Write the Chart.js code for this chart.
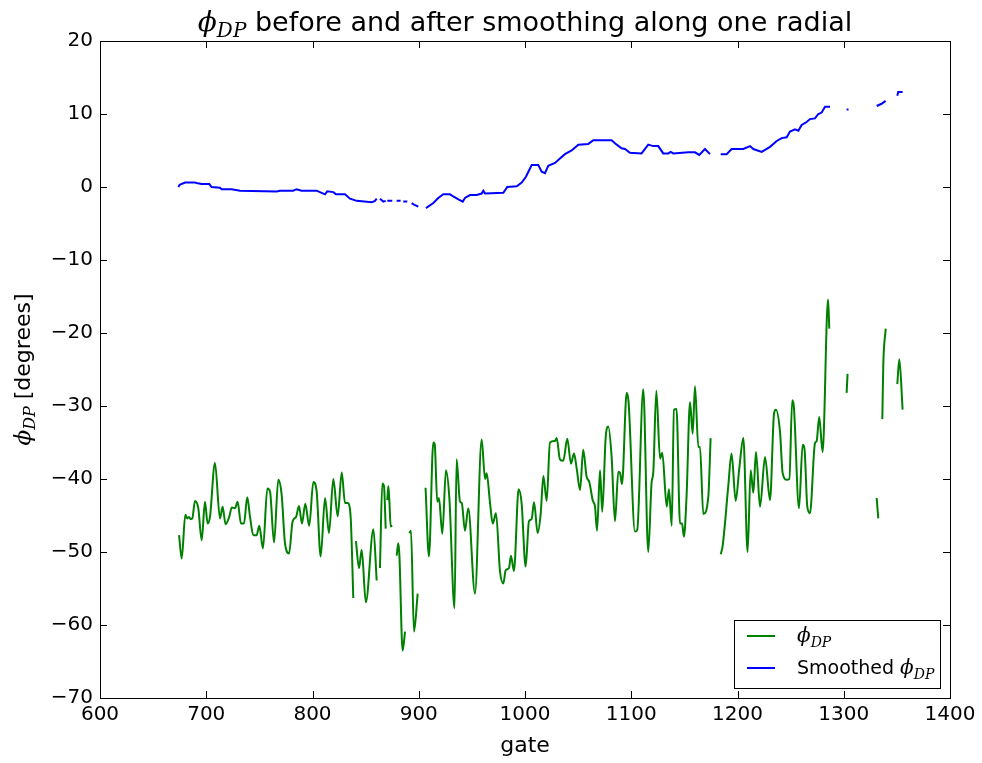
<!DOCTYPE html>
<html>
<head>
<meta charset="utf-8">
<script src="https://cdn.jsdelivr.net/npm/chart.js@4/dist/chart.umd.min.js"></script>
<style>
  html, body { margin: 0; padding: 0; background: #fff; }
  #wrap { width: 982px; height: 763px; }
</style>
</head>
<body>
<div id="wrap"><canvas id="c" width="982" height="763"></canvas></div>
<script>
// Raw differential phase along the radial (null = masked gate, breaks the line)
const phiGates = [
  674.4, 676.9, 680.3, 682.2, 683.8, 685.3, 686.9, 689.4, 692.5, 695.7, 698.8, 701.3, 703.5, 708.2,
  712.9, 715.4, 718.2, 721.6, 724.1, 727.1, 729.5, 732.7, 735.5, 738.6, 741.2, 744.3, 747.4, 749.9,
  753.4, 757.5, 760.0, 763.8, 767.8, 771.0, 774.1, 777.9, 781.3, 784.5, 787.3, 790.1, 793.2, 796.9,
  800.8, 803.9, 807.7, 811.8, 815.5, 819.6, 823.7, 827.5, 830.6, 833.1, 835.9, 838.4, 839.5,
  840.9, 843.8, 846.3, 850.2, 857.3, 860.4, 862.0,
  863.5, 865.7, 867.3, 868.9, 869.6,
  870.4, 871.4, 872.3, 873.6, 875.1, 877.0,
  879.2, 880.8, 881.8, 884.8, 887.1, 889.0,
  891.1, 892.7, 895.5, 899.0, 903.0,
  906.4, 909.6, 913.7, 915.0, 917.4, 919.0, 922.2, 925.6, 928.8, 933.7, 935.6, 938.8, 940.5,
  943.5, 946.6, 952.9, 959.2, 962.4, 963.9, 967.1, 969.6, 972.7, 976.5, 979.6, 981.8, 984.9,
  986.8, 989.6, 994.0, 996.8, 1000.6, 1003.7, 1006.2, 1008.5, 1011.9, 1014.8, 1017.3, 1020.4,
  1023.5, 1028.2, 1029.8, 1032.9, 1036.0, 1039.8, 1043.3, 1046.1, 1048.6, 1051.8, 1054.8, 1058.0,
  1060.5, 1063.7, 1065.9, 1067.8, 1070.6, 1072.7, 1075.9, 1078.4, 1081.5, 1084.7, 1087.8, 1089.5,
  1091.3, 1095.7, 1097.5, 1103.5, 1105.6, 1111.3, 1116.0, 1119.2, 1120.7, 1123.6, 1127.1, 1129.2,
  1133.4, 1135.5, 1138.1, 1140.2, 1142.6, 1145.9, 1147.8, 1149.6, 1152.1, 1155.3, 1157.8, 1160.0,
  1163.1, 1164.7, 1167.8, 1172.5, 1174.7, 1180.0,
  1184.2, 1186.0, 1191.3, 1194.4, 1198.3, 1201.7, 1205.5, 1209.5, 1212.4, 1214.9, 1217.4, 1221.2,
  1225.9, 1230.6, 1234.4, 1236.2, 1240.0, 1242.5, 1246.3, 1248.8, 1251.5, 1253.0, 1257.9, 1261.3,
  1263.0, 1265.7, 1268.2, 1272.9, 1274.5, 1276.9, 1280.1, 1285.2, 1286.4, 1295.0,
  1302.7, 1303.6, 1317.0,
  1331.0, 1332.5, 1334.5,
  1336.3, 1337.2, 1339.5, 1345.0,
  1350.4, 1352.3, 1355.4
];
const phiValues = [
  -47.7, -50.9, -44.9, -45.4, -45.2, -45.5, -45.4, -43.0, -44.0, -48.4, -43.1, -46.1, -45.2, -37.8,
  -45.4, -43.8, -46.2, -45.2, -43.9, -44.0, -43.1, -46.1, -46.1, -42.5, -45.2, -47.7, -47.7, -46.4,
  -49.5, -41.3, -41.7, -48.7, -40.1, -42.2, -48.8, -50.2, -45.8, -45.2, -43.7, -46.1, -43.4, -46.4,
  -40.4, -41.7, -50.6, -42.6, -47.4, -40.0, -45.1, -39.1, -43.3, -43.3, -45.2, -56.3, null,
  -48.5, -52.2, -49.7, -56.9, -46.9, -53.9, null,
  -52.2, -40.6, -41.0, -46.8, null,
  -42.9, -41.0, -42.9, -46.5, -46.4, null,
  -50.5, -48.8, -50.5, -63.5, -60.9, null,
  -47.4, -47.1, -60.9, -55.7, null,
  -41.2, -50.6, -35.0, -35.2, -43.1, -42.6, -47.5, -38.8, -42.6, -57.7, -37.3, -43.1, -43.3,
  -47.1, -44.0, -55.7, -34.6, -40.0, -39.2, -43.3, -46.1, -44.7, -52.7, -54.3, -52.5, -52.2,
  -50.5, -52.6, -41.4, -43.3, -52.0, -45.8, -45.5, -43.2, -47.4, -44.7, -39.6, -43.0,
  -35.0, -34.8, -34.4, -37.3, -37.5, -34.5, -37.9, -36.5, -38.5, -41.5, -36.0, -39.7,
  -40.4, -42.9, -43.8, -47.1, -38.8, -44.5, -34.4, -32.8, -36.9, -45.8, -39.0, -39.2,
  -40.7, -28.2, -29.5, -47.2, -47.0, -27.7, -50.0, -40.4, -39.2, -27.9, -37.2, -36.4,
  -43.8, -41.4, -46.4, -30.5, -30.4, -46.1, -46.1, -47.9, -42.2, -29.5, -33.8, -27.3,
  -35.6, -35.6, -44.8, -42.5, -34.4, null,
  -50.3, -49.2, -41.0, -36.5, -43.0, -38.5, -34.4, -50.0, -38.8, -41.9, -36.3, -43.8,
  -37.0, -42.9, -31.0, -30.5, -33.5, -39.2, -40.1, -40.0, -29.2, -30.0, -44.0, -35.3,
  -35.8, -43.8, -44.7, -35.1, -34.8, -31.5, -36.3, -15.4, -19.4, null,
  -28.2, -25.6, null,
  -42.6, -45.4, null,
  -31.8, -24.4, -19.4, null,
  -27.0, -23.6, -30.5
];

// Smoothed differential phase on the same radial
const smoothGates = [
  673.7, 675.0, 680.0, 689.4, 692.0, 695.7, 702.9, 705.0, 712.9, 714.5, 723.9, 731.8, 766.2, 769.4,
  781.9, 785.0, 789.7, 803.9, 808.6, 811.8, 813.9, 819.6, 822.1, 830.6, 835.3, 841.6, 855.7, 858.8,
  860.4, 862.0,
  863.5, 866.7, 868.9, 869.6,
  870.4, 875.1, 877.0,
  879.2, 882.9, 884.0,
  885.4, 889.2, 891.0,
  893.3, 895.5, 899.6, 903.0,
  906.8, 913.7, 918.4, 923.1, 929.4, 932.5, 937.3, 941.4, 943.5, 948.2, 954.5, 959.2, 960.8,
  962.4, 979.6, 983.3, 992.2, 996.9, 1000.9, 1006.3, 1012.5, 1015.7, 1018.8, 1021.9, 1028.2,
  1032.9, 1037.6, 1043.9, 1050.2, 1059.6, 1064.3, 1081.5, 1086.3, 1090.9, 1094.1, 1098.8, 1109.7,
  1116.0, 1120.7, 1125.4, 1130.1, 1134.9, 1137.1, 1139.6, 1153.7, 1160.0, 1164.0, 1169.4, 1174.1,
  1180.0,
  1184.2, 1189.8, 1194.5, 1205.5, 1211.8, 1214.9, 1222.8, 1230.6, 1236.9, 1241.6, 1246.3, 1249.4,
  1254.1, 1257.3, 1260.4, 1265.1, 1268.2, 1272.9, 1276.1, 1279.2, 1282.4, 1287.1, 1295.0,
  1302.7, 1304.5, 1317.0,
  1331.0, 1335.6, 1339.4, 1345.0,
  1350.4, 1351.3, 1355.4
];
const smoothValues = [
  0.0, 0.3, 0.6, 0.6, 0.5, 0.4, 0.4, 0.0, -0.1, -0.3, -0.3, -0.5, -0.6, -0.5,
  -0.5, -0.3, -0.5, -0.5, -0.8, -1.0, -0.6, -0.7, -1.0, -1.0, -1.6, -1.9, -2.1, -1.9,
  -1.6, null,
  -1.6, -2.0, -1.9, null,
  -1.9, -1.9, null,
  -1.9, -1.9, null,
  -2.0, -2.0, null,
  -2.2, -2.4, -2.7, null,
  -2.9, -2.2, -1.5, -1.0, -1.0, -1.3, -1.7, -2.0, -1.5, -1.1, -1.1, -0.9, -0.5,
  -0.9, -0.8, 0.0, 0.1, 0.6, 1.4, 3.0, 3.0, 2.1, 1.9, 2.9, 3.3,
  3.9, 4.5, 5.0, 5.8, 5.9, 6.4, 6.4, 5.8, 5.3, 5.2, 4.7, 4.6,
  5.8, 5.6, 5.6, 4.6, 4.6, 4.8, 4.6, 4.75, 4.75, 4.4, 5.2, 4.5,
  null,
  4.5, 4.5, 5.2, 5.2, 5.6, 5.2, 4.8, 5.5, 6.3, 6.7, 6.8, 7.6,
  7.9, 7.7, 8.5, 8.9, 9.3, 9.4, 10.0, 10.2, 11.0, 11.0, null,
  10.6, 10.6, null,
  11.1, 11.4, 11.8, null,
  12.5, 13.0, 13.0
];

const xTicks = [600, 700, 800, 900, 1000, 1100, 1200, 1300, 1400];
const yTicks = [-70, -60, -50, -40, -30, -20, -10, 0, 10, 20];

const SANS = '"DejaVu Sans", sans-serif';
const MATH = '"DejaVu Serif", "Liberation Serif", serif';
const PHI = '\u03D5';
const minus = v => (v < 0 ? '\u2212' + Math.abs(v) : String(v));
const toPoints = (xs, ys) => xs.map((x, i) => ({ x: x, y: ys[i] }));

// Draw a run of text pieces (plain text + italic phi with DP subscript) starting at x
function drawRuns(ctx, runs, x, y, align) {
  let total = 0;
  runs.forEach(r => { ctx.font = r.font; total += ctx.measureText(r.text).width; });
  let cx = align === 'center' ? x - total / 2 : x;
  ctx.textBaseline = 'alphabetic';
  ctx.textAlign = 'left';
  runs.forEach(r => {
    ctx.font = r.font;
    ctx.fillText(r.text, cx, y + (r.dy || 0));
    cx += ctx.measureText(r.text).width;
  });
}
function phiRuns(size, subSize, sub) {
  return [
    { text: PHI, font: 'italic ' + size + 'px ' + MATH },
    { text: 'DP', font: 'italic ' + subSize + 'px ' + MATH, dy: sub }
  ];
}

const framePlugin = {
  id: 'frameAndText',
  afterDraw(chart) {
    const ctx = chart.ctx;
    const a = chart.chartArea;
    const xs = chart.scales.x, ys = chart.scales.y;
    ctx.save();
    ctx.strokeStyle = '#000';
    ctx.lineWidth = 1;
    // inward ticks on all four sides
    const tl = 7;
    ctx.beginPath();
    xTicks.forEach(v => {
      const px = Math.round(xs.getPixelForValue(v)) + 0.5;
      ctx.moveTo(px, a.bottom); ctx.lineTo(px, a.bottom - tl);
      ctx.moveTo(px, a.top); ctx.lineTo(px, a.top + tl);
    });
    yTicks.forEach(v => {
      const py = Math.round(ys.getPixelForValue(v)) + 0.5;
      ctx.moveTo(a.left, py); ctx.lineTo(a.left + tl, py);
      ctx.moveTo(a.right, py); ctx.lineTo(a.right - tl, py);
    });
    ctx.stroke();
    // axes frame
    ctx.strokeRect(Math.round(a.left) + 0.5, Math.round(a.top) + 0.5,
                   Math.round(a.right - a.left), Math.round(a.bottom - a.top));

    ctx.fillStyle = '#000';
    // title
    const cxm = (a.left + a.right) / 2;
    drawRuns(ctx, phiRuns(28, 20, 6).concat([
      { text: ' before and after smoothing along one radial', font: '27px ' + SANS }
    ]), cxm, 31, 'center');

    // x axis label
    drawRuns(ctx, [{ text: 'gate', font: '22px ' + SANS }], cxm, 752, 'center');

    // y axis label (rotated)
    ctx.save();
    ctx.translate(30, (a.top + a.bottom) / 2);
    ctx.rotate(-Math.PI / 2);
    drawRuns(ctx, phiRuns(23, 16, 5).concat([
      { text: ' [degrees]', font: '22px ' + SANS }
    ]), 0, 0, 'center');
    ctx.restore();

    // legend box
    const lx = 734.5, ly = 620.5, lw = 206, lh = 68;
    ctx.fillStyle = '#fff';
    ctx.fillRect(lx, ly, lw, lh);
    ctx.strokeStyle = '#000';
    ctx.lineWidth = 1;
    ctx.strokeRect(lx, ly, lw, lh);
    const items = chart.data.datasets;
    const rowsY = [636, 668];
    items.forEach((ds, i) => {
      ctx.strokeStyle = ds.borderColor;
      ctx.lineWidth = 2;
      ctx.beginPath();
      ctx.moveTo(747, rowsY[i]); ctx.lineTo(775, rowsY[i]);
      ctx.stroke();
    });
    ctx.fillStyle = '#000';
    drawRuns(ctx, phiRuns(20, 14, 5), 797, 642, 'left');
    drawRuns(ctx, [{ text: 'Smoothed ', font: '19px ' + SANS }].concat(phiRuns(20, 14, 5)), 797, 674, 'left');
    ctx.restore();
  }
};

const tickFont = { family: 'DejaVu Sans', size: 20 };

new Chart(document.getElementById('c'), {
  type: 'line',
  data: {
    datasets: [
      {
        label: PHI + 'DP',
        data: toPoints(phiGates, phiValues),
        borderColor: '#008000',
        borderWidth: 2,
        borderJoinStyle: 'round',
        pointRadius: 0,
        cubicInterpolationMode: 'monotone',
        spanGaps: false,
        fill: false
      },
      {
        label: 'Smoothed ' + PHI + 'DP',
        data: toPoints(smoothGates, smoothValues),
        borderColor: '#0000ff',
        borderWidth: 2,
        pointRadius: 0,
        tension: 0,
        spanGaps: false,
        fill: false
      }
    ]
  },
  options: {
    responsive: false,
    animation: false,
    devicePixelRatio: 1,
    layout: { padding: { left: 0, right: 32, top: 41, bottom: 0 } },
    plugins: {
      legend: { display: false },
      title: { display: false },
      tooltip: { enabled: false }
    },
    scales: {
      x: {
        type: 'linear',
        min: 600, max: 1400,
        afterBuildTicks: s => { s.ticks = xTicks.map(v => ({ value: v })); },
        afterFit: s => { s.height = 65; },
        grid: { display: false, drawTicks: false },
        border: { display: false },
        ticks: { font: tickFont, color: '#000', padding: 5, maxRotation: 0, autoSkip: false,
                 callback: v => minus(v) }
      },
      y: {
        type: 'linear',
        min: -70, max: 20,
        afterBuildTicks: s => { s.ticks = yTicks.map(v => ({ value: v })); },
        afterFit: s => { s.width = 100; },
        grid: { display: false, drawTicks: false },
        border: { display: false },
        ticks: { font: tickFont, color: '#000', padding: 7, autoSkip: false,
                 callback: v => minus(v) }
      }
    }
  },
  plugins: [framePlugin]
});
</script>
</body>
</html>
